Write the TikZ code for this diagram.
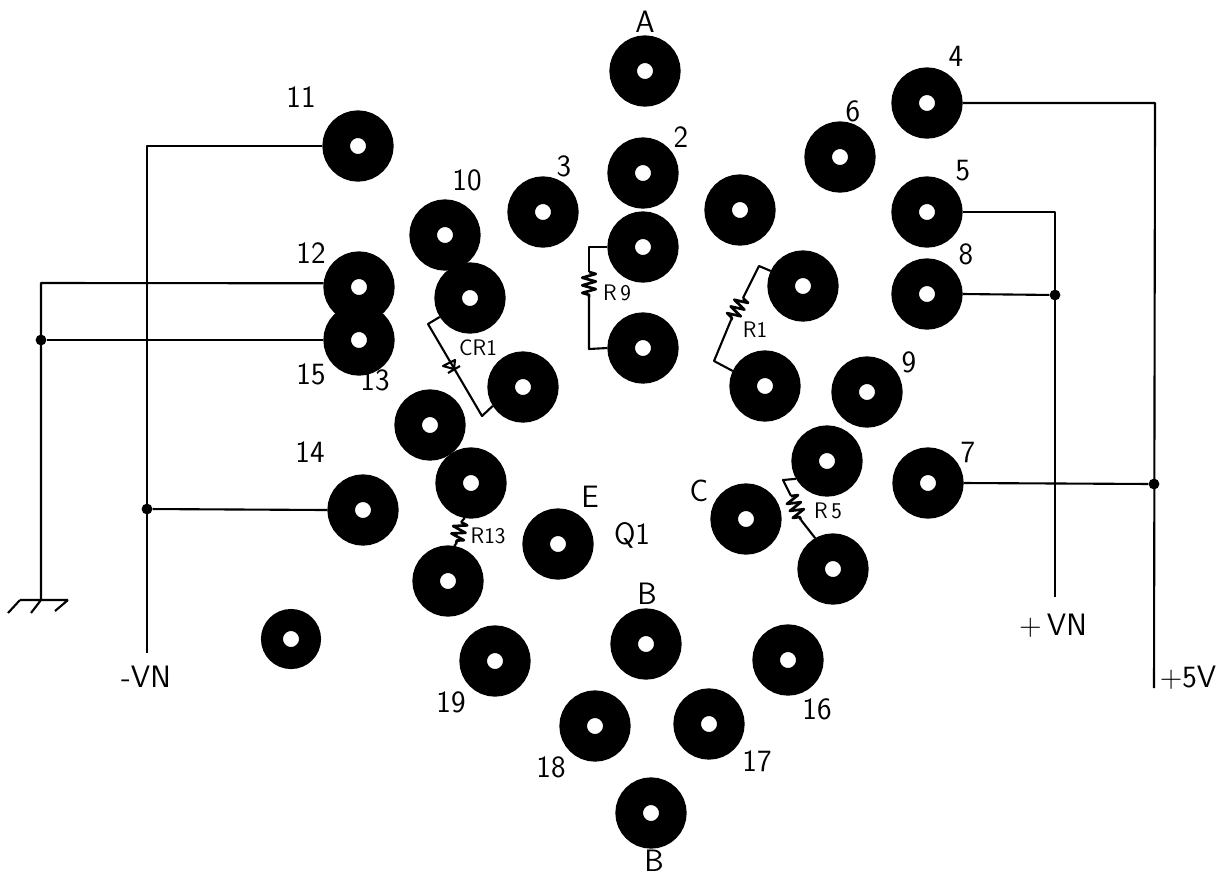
\documentclass[tikz,border=0pt]{standalone}
\usetikzlibrary{decorations.pathmorphing}
\tikzset{
pad/.style={circle,draw=black,fill=white,line width=0.69cm,minimum size=1.09cm,inner sep=0pt},
smallpad/.style={circle,draw=black,fill=white,line width=0.55cm,minimum size=0.95cm,inner sep=0pt},
junction/.style={circle,fill=black,minimum size=0.27cm,inner sep=0pt},
lab/.style={font=\sffamily\fontsize{22}{24}\selectfont,inner sep=0pt},
smalllab/.style={font=\sffamily\fontsize{16}{18}\selectfont,inner sep=0pt},
wire/.style={line width=1.5pt,line join=round},
resistor/.style={wire,line width=1.9pt,decorate,decoration={zigzag,segment length=0.19cm,amplitude=0.17cm}}
}
\begin{document}
\begin{tikzpicture}[x=0.025cm,y=-0.025cm]
\useasboundingbox (0,0) rectangle (1220,877);

\node[pad] (pA) at (645,71) {};
\node[pad] (p4) at (927,103) {};
\node[pad] (p11) at (358,146) {};
\node[pad] (p6) at (840,157) {};
\node[pad] (p2) at (643,173) {};
\node[pad] (p3) at (543,212) {};
\node[pad] (pblank) at (740,210) {};
\node[pad] (p5) at (927,212) {};
\node[pad] (p10) at (445,235) {};
\node[pad] (pnine) at (643,247) {};
\node[pad] (p12) at (359,287) {};
\node[pad] (p15) at (359,340) {};
\node[pad] (pcra) at (470,298) {};
\node[pad] (pra) at (803,286) {};
\node[pad] (p8) at (927,294) {};
\node[pad] (pninelow) at (643,348) {};
\node[pad] (pcrb) at (523,387) {};
\node[pad] (prb) at (765,386) {};
\node[pad] (p9) at (867,392) {};
\node[pad] (p13) at (430,425) {};
\node[pad] (pfa) at (827,461) {};
\node[pad] (p7) at (928,483) {};
\node[pad] (p14) at (363,510) {};
\node[pad] (pta) at (471,483) {};
\node[pad] (pE) at (558,544) {};
\node[pad] (pC) at (746,519) {};
\node[pad] (pfb) at (833,569) {};
\node[pad] (ptb) at (448,581) {};
\node[pad] (pB) at (646,644) {};
\node[pad] (p16) at (788,660) {};
\node[pad] (p19) at (495,661) {};
\node[smallpad] (pgnd) at (291,639) {};
\node[pad] (p18) at (595,726) {};
\node[pad] (p17) at (709,724) {};
\node[pad] (pBlow) at (651,813) {};

\node[lab] (lA) at (645,22) {A};
\node[lab] (l4) at (956,56) {4};
\node[lab] (l11) at (301,97) {11};
\node[lab] (l6) at (853,111) {6};
\node[lab] (l2) at (681,137) {2};
\node[lab] (l3) at (564,166) {3};
\node[lab] (l10) at (467,180) {10};
\node[lab] (l5) at (963,171) {5};
\node[lab] (l12) at (311,253) {12};
\node[lab] (l8) at (966,254) {8};
\node[lab] (l9) at (909,362) {9};
\node[lab] (l13) at (375,380) {13};
\node[lab] (l15) at (311,374) {15};
\node[lab] (l14) at (310,452) {14};
\node[lab] (l7) at (968,452) {7};
\node[lab] (lE) at (590,497) {E};
\node[lab] (lC) at (699,491) {C};
\node[lab] (lQ) at (632,535) {Q1};
\node[lab] (lB) at (647,594) {B};
\node[lab] (lBlow) at (654,861) {B};
\node[lab] (l19) at (451,702) {19};
\node[lab] (l18) at (551,767) {18};
\node[lab] (l17) at (757,761) {17};
\node[lab] (l16) at (817,709) {16};
\node[lab] (lmvn) at (146,677) {-VN};
\node[lab] (lpvn) at (1053,626) {+\,VN};
\node[lab] (lfive) at (1188,678) {+5V};
\node[smalllab] (lcr) at (478,348) {CR1};
\node[smalllab] (lrnine) at (617,293) {R\,9};
\node[smalllab] (lrone) at (755,330) {R1};
\node[smalllab] (lrfive) at (828,511) {R\,5};
\node[smalllab] (lrth) at (488,536) {R13};

% supply rails
\node[junction] (jfive) at (1154,484) {};
\node[junction] (jvn) at (1055,295) {};
\node[junction] (jmvn) at (147,509) {};
\node[junction] (jgnd) at (41,340) {};
\coordinate (cfour) at (1155,103);
\coordinate (cfive) at (1154,688);
\coordinate (cvfive) at (1055,212);
\coordinate (cvn) at (1055,597);
\coordinate (celev) at (147,146);
\coordinate (cmvn) at (147,653);
\coordinate (ctw) at (41,283);
\coordinate (cgnd) at (41,600);
\coordinate (cga) at (20,600);
\coordinate (cgb) at (68,600);
\coordinate (cgc) at (8,613);
\coordinate (cgd) at (31,613);
\coordinate (cge) at (55,611);

\draw[wire] (p4.east) -- (cfour) -- (cfive);
\draw[wire] (p7.east) -- (jfive);
\draw[wire] (p5.east) -- (cvfive) -- (cvn);
\draw[wire] (p8.east) -- (jvn);
\draw[wire] (p11.west) -- (celev) -- (cmvn);
\draw[wire] (p14.west) -- (jmvn);
\draw[wire] (p12.174) -- (ctw) -- (cgnd);
\draw[wire] (p15.west) -- (jgnd);
\draw[wire] (cga) -- (cgb)
	(cga) -- (cgc)
	(cgnd) -- (cgd)
	(cgb) -- (cge);

% R9
\coordinate (rninea) at (589,247);
\coordinate (rnineb) at (589,272);
\coordinate (rninec) at (589,297);
\coordinate (rnined) at (589,349);
\draw[wire] (pnine.west) -- (rninea) -- (rnineb);
\draw[resistor] (rnineb) -- (rninec);
\draw[wire] (rninec) -- (rnined) -- (pninelow.west);

% R1
\coordinate (ronea) at (759,266);
\coordinate (roneb) at (743,298);
\coordinate (ronec) at (731,320);
\coordinate (roned) at (714,361);
\draw[wire] (pra.155) -- (ronea) -- (roneb);
\draw[resistor] (roneb) -- (ronec);
\draw[wire] (ronec) -- (roned) -- (prb.155);

% R5
\coordinate (rfivea) at (783,480);
\coordinate (rfiveb) at (791,496);
\coordinate (rfivec) at (801,520);
\draw[wire] (pfa.210) -- (rfivea) -- (rfiveb);
\draw[resistor] (rfiveb) -- (rfivec);
\draw[wire] (rfivec) -- (pfb.120);

% R13
\coordinate (rtha) at (461,522);
\coordinate (rthb) at (456,544);
\draw[wire] (pta.260) -- (rtha);
\draw[resistor] (rtha) -- (rthb);
\draw[wire] (rthb) -- (ptb.80);

% CR1
\coordinate (cra) at (428,324);
\coordinate (crb) at (482,416);
\draw[wire] (pcra.212) -- (cra) -- (crb) -- (pcrb.212);
\draw[wire] (443,366) -- (455,360) -- (454,369) -- cycle
	(448,373) -- (460,366);

\end{tikzpicture}
\end{document}
